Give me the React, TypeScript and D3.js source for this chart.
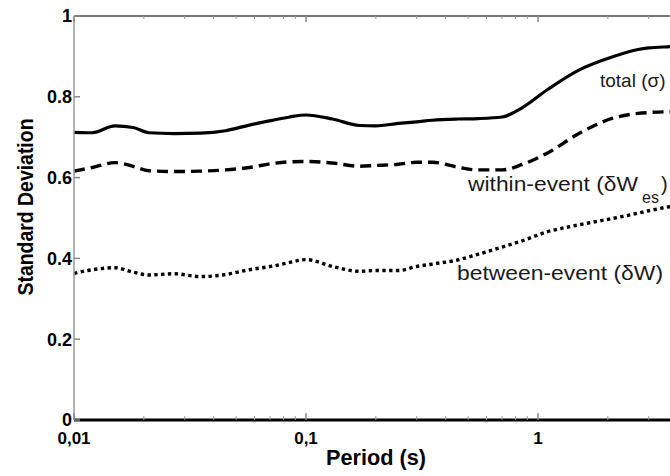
import React from "react";
import * as d3 from "d3";

const periods = [0.01, 0.012, 0.015, 0.018, 0.021, 0.027, 0.035, 0.045, 0.057, 0.072, 0.085, 0.1, 0.13, 0.17, 0.2, 0.25, 0.3, 0.35, 0.45, 0.55, 0.7, 0.85, 1.1, 1.5, 2.1, 2.7, 3.0, 3.7, 4.0];
const totalSigma = [0.712, 0.711, 0.728, 0.724, 0.711, 0.709, 0.710, 0.716, 0.730, 0.742, 0.750, 0.755, 0.745, 0.729, 0.728, 0.734, 0.738, 0.742, 0.745, 0.746, 0.750, 0.772, 0.818, 0.866, 0.899, 0.917, 0.921, 0.924, 0.925];
const withinEvent = [0.616, 0.625, 0.637, 0.628, 0.617, 0.615, 0.616, 0.619, 0.625, 0.635, 0.639, 0.640, 0.636, 0.628, 0.630, 0.633, 0.638, 0.638, 0.626, 0.619, 0.619, 0.632, 0.661, 0.709, 0.747, 0.759, 0.761, 0.763, 0.763];
const betweenEvent = [0.363, 0.372, 0.377, 0.366, 0.359, 0.362, 0.355, 0.360, 0.372, 0.381, 0.390, 0.397, 0.380, 0.368, 0.370, 0.370, 0.380, 0.386, 0.396, 0.410, 0.428, 0.443, 0.466, 0.483, 0.499, 0.512, 0.518, 0.528, 0.531];

const xMajorTicks = [0.01, 0.1, 1];
const xTickLabels = ["0,01", "0,1", "1"];
const yTicks = [0, 0.2, 0.4, 0.6, 0.8, 1];
const yTickLabels = ["0", "0.2", "0.4", "0.6", "0.8", "1"];

const W = 670;
const H = 476;
const left = 74;
const top = 16;
const bottom = 420;
const decade = 232;

export default function App() {
  const x = d3.scaleLog().domain([0.01, 10]).range([left, left + 3 * decade]);
  const y = d3.scaleLinear().domain([0, 1]).range([bottom, top]);

  const minor: number[] = [];
  [0.01, 0.1, 1].forEach((d) => {
    for (let k = 2; k <= 9; k++) minor.push(d * k);
  });

  const line = d3
    .line<number>()
    .x((_, i) => x(periods[i]))
    .y((v) => y(v))
    .curve(d3.curveMonotoneX);

  const font = "'Liberation Sans', Arial, sans-serif";
  const right = W;

  return (
    <svg
      width={W}
      height={H}
      style={{ position: "absolute", left: 0, top: 0, background: "#fff" }}
      fontFamily={font}
    >
      <rect x={0} y={0} width={W} height={H} fill="#fff" />
      <path d={line(totalSigma) || ""} fill="none" stroke="#000" strokeWidth={3.2} />
      <path d={line(withinEvent) || ""} fill="none" stroke="#000" strokeWidth={3.4} strokeDasharray="11,6" />
      <path d={line(betweenEvent) || ""} fill="none" stroke="#000" strokeWidth={3.4} strokeDasharray="3.4,3.4" />

      <line x1={left} x2={right} y1={top} y2={top} stroke="#777" strokeWidth={2} />
      <line x1={left} x2={left} y1={top} y2={bottom} stroke="#999" strokeWidth={1.5} />
      <line x1={left} x2={right} y1={bottom} y2={bottom} stroke="#000" strokeWidth={3} />

      {xMajorTicks.map((t) => (
        <g key={"xm" + t}>
          <line x1={x(t)} x2={x(t)} y1={bottom} y2={bottom - 7} stroke="#888" strokeWidth={1.5} />
          <line x1={x(t)} x2={x(t)} y1={top} y2={top + 6} stroke="#888" strokeWidth={1.5} />
        </g>
      ))}
      {minor.map((t) => (
        <g key={"xn" + t}>
          <line x1={x(t)} x2={x(t)} y1={bottom} y2={bottom - 4} stroke="#999" strokeWidth={1} />
          <line x1={x(t)} x2={x(t)} y1={top} y2={top + 3} stroke="#999" strokeWidth={1} />
        </g>
      ))}
      {xMajorTicks.map((t, i) => (
        <text
          key={"xl" + t}
          x={x(t)}
          y={444}
          textAnchor="middle"
          fontSize={17}
          fontWeight="bold"
          fill="#000"
        >
          {xTickLabels[i]}
        </text>
      ))}

      {yTicks.map((t, i) => (
        <g key={"y" + t}>
          <line x1={left} x2={left + 6} y1={y(t)} y2={y(t)} stroke="#888" strokeWidth={1.5} />
          <text
            x={72}
            y={y(t)}
            dy="0.36em"
            textAnchor="end"
            fontSize={18}
            fontWeight="bold"
            fill="#000"
          >
            {yTickLabels[i]}
          </text>
        </g>
      ))}

      <text
        transform="translate(33,207) rotate(-90)"
        textAnchor="middle"
        fontSize={22}
        fontWeight="bold"
        textLength={177}
        lengthAdjust="spacingAndGlyphs"
        fill="#000"
      >
        Standard Deviation
      </text>
      <text
        x={376}
        y={465}
        textAnchor="middle"
        fontSize={22}
        fontWeight="bold"
        textLength={100}
        lengthAdjust="spacingAndGlyphs"
        fill="#000"
      >
        Period (s)
      </text>

      <text x={600} y={87} fontSize={19} fill="#1a1a1a">
        total (σ)
      </text>
      <text x={468} y={191} fontSize={20} fill="#1a1a1a" textLength={170} lengthAdjust="spacingAndGlyphs">
        within-event (δW
      </text>
      <text x={642} y={203} fontSize={16} fill="#1a1a1a">
        es
      </text>
      <text x={661} y={191} fontSize={20} fill="#1a1a1a">
        )
      </text>
      <text x={457} y={280} fontSize={20} fill="#1a1a1a" textLength={206} lengthAdjust="spacingAndGlyphs">
        between-event (δW)
      </text>
    </svg>
  );
}
